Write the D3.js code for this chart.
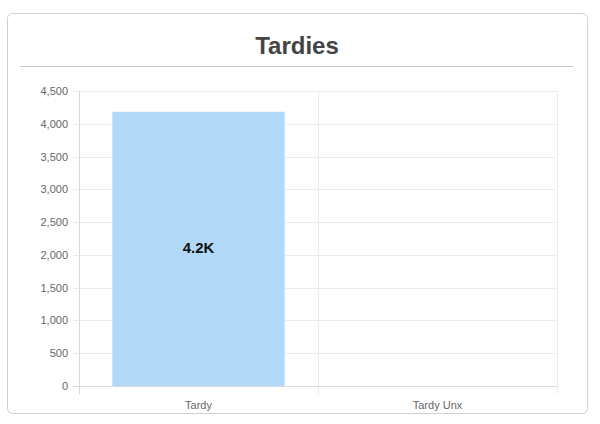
<!DOCTYPE html>
<html><head><meta charset="utf-8">
<script src="https://cdn.jsdelivr.net/npm/d3@7"></script>
<style>
html,body{margin:0;padding:0;background:#fff;}
svg{display:block;font-family:"Helvetica Neue",Helvetica,Arial,"Liberation Sans",sans-serif;}
</style></head>
<body>
<svg id="chart" width="600" height="424"></svg>
<script>
const title = "Tardies";
const categories = ["Tardy", "Tardy Unx"];
const values = [4180, 0];
const yTicks = [0, 500, 1000, 1500, 2000, 2500, 3000, 3500, 4000, 4500];
const barLabels = ["4.2K", ""];

(function () {
const svg = d3.select("#chart");
// card
svg.append("rect").attr("x", 7.5).attr("y", 13.5).attr("width", 580).attr("height", 400)
  .attr("rx", 5).attr("fill", "#fff").attr("stroke", "#d0d0d0").attr("stroke-width", 1);
svg.append("text").attr("x", 297).attr("y", 54).attr("text-anchor", "middle")
  .attr("font-family", "'Liberation Sans', Arial, sans-serif")
  .attr("font-size", 24).attr("font-weight", "bold").attr("fill", "#444").text(title);
svg.append("line").attr("x1", 20).attr("x2", 573).attr("y1", 66.5).attr("y2", 66.5)
  .attr("stroke", "#c8c8c8");

const pLeft = 79, pRight = 557, pTop = 91, pBottom = 386;
const x = d3.scaleBand().domain(categories).range([pLeft, pRight]).paddingInner(0).paddingOuter(0);
const y = d3.scaleLinear().domain([0, 4500]).range([pBottom, pTop]);

const g = svg.append("g");
// horizontal grid
g.selectAll(".hg").data(yTicks).join("line")
  .attr("x1", pLeft - 6).attr("x2", pRight)
  .attr("y1", d => Math.round(y(d)) + 0.5).attr("y2", d => Math.round(y(d)) + 0.5)
  .attr("stroke", d => d === 0 ? "#d8d8d8" : "#ececec");
// vertical grid (category boundaries)
const vb = categories.map(c => x(c)).concat([pRight]);
g.selectAll(".vg").data(vb).join("line")
  .attr("x1", d => Math.round(d) + 0.5).attr("x2", d => Math.round(d) + 0.5)
  .attr("y1", pTop).attr("y2", pBottom + 8)
  .attr("stroke", (d, i) => i === 0 ? "#d8d8d8" : "#ececec");

// y labels
g.selectAll(".yl").data(yTicks).join("text")
  .attr("x", pLeft - 11).attr("y", d => y(d) + 4)
  .attr("text-anchor", "end").attr("font-size", 11).attr("fill", "#666")
  .text(d => d3.format(",")(d));

// x labels
g.selectAll(".xl").data(categories).join("text")
  .attr("x", d => x(d) + x.bandwidth() / 2).attr("y", 409)
  .attr("text-anchor", "middle").attr("font-size", 11).attr("fill", "#666")
  .text(d => d);

// bars
const bw = x.bandwidth() * 0.72;
g.selectAll(".bar").data(values).join("rect")
  .attr("x", (d, i) => x(categories[i]) + (x.bandwidth() - bw) / 2)
  .attr("y", d => y(d)).attr("width", bw).attr("height", d => pBottom - y(d))
  .attr("fill", "#b1d8f7").attr("stroke", "#c6e3fa").attr("stroke-width", 0.5);

g.selectAll(".bl").data(values).join("text")
  .attr("x", (d, i) => x(categories[i]) + x.bandwidth() / 2)
  .attr("y", d => (y(d) + pBottom) / 2 + 4)
  .attr("text-anchor", "middle").attr("font-size", 15).attr("font-weight", "bold").attr("fill", "#111")
  .text((d, i) => barLabels[i]);
})();
</script>
</body></html>
